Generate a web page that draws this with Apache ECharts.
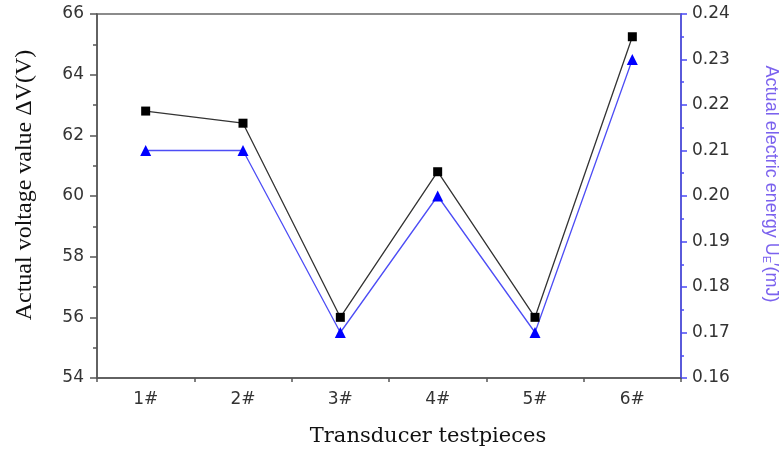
<!DOCTYPE html>
<html><head><meta charset="utf-8">
<script src="https://cdn.jsdelivr.net/npm/echarts@6/dist/echarts.min.js"></script>
<style>html,body{margin:0;padding:0;background:#fff}#c{width:782px;height:453px}</style>
</head><body><div id="c"></div>
<script>
const categories = ['1#','2#','3#','4#','5#','6#'];
const voltage = [62.8, 62.4, 56.0, 60.8, 56.0, 65.25];
const energy = [0.21, 0.21, 0.17, 0.20, 0.17, 0.23];
const leftTicks = {min: 54, max: 66, interval: 2};
const rightTicks = {min: 0.16, max: 0.24, interval: 0.01};

const chart = echarts.init(document.getElementById('c'));
const tickLabel = {color: '#333', fontFamily: 'DejaVu Sans, sans-serif', fontSize: 17};
chart.setOption({
  animation: false,
  grid: {left: 97, right: 101, top: 14, bottom: 75, containLabel: false, outerBoundsMode: 'none',
         show: true, borderColor: '#666', borderWidth: 1.5},
  xAxis: [{
    type: 'category', data: categories, boundaryGap: true,
    name: 'Transducer testpieces', nameLocation: 'middle', nameGap: 48,
    nameTextStyle: {fontFamily: 'DejaVu Serif, serif', fontSize: 21, color: '#111', padding: [0, 0, 0, 78]},
    axisLine: {lineStyle: {color: '#555', width: 1.5}},
    axisTick: {alignWithLabel: true, length: 7, lineStyle: {color: '#555', width: 1.5}},
    axisLabel: Object.assign({margin: 13}, tickLabel),
    splitLine: {show: false}
  }, {
    type: 'category', data: categories, boundaryGap: true, position: 'bottom',
    axisLine: {show: false},
    axisTick: {show: true, length: 4, lineStyle: {color: '#555', width: 1.5}},
    axisLabel: {show: false}, splitLine: {show: false}
  }],
  yAxis: [{
    type: 'value', min: leftTicks.min, max: leftTicks.max, interval: leftTicks.interval,
    name: 'Actual voltage value ΔV(V)', nameLocation: 'middle', nameGap: 60, nameRotate: 90,
    nameTextStyle: {fontFamily: 'Liberation Serif, Times New Roman, serif', fontSize: 24, color: '#111', padding: [0, 0, 0, 22]},
    axisLine: {show: true, lineStyle: {color: '#555', width: 1.5}},
    axisTick: {show: true, length: 7, lineStyle: {color: '#555', width: 1.5}},
    minorTick: {show: true, splitNumber: 2, length: 4, lineStyle: {color: '#555', width: 1.5}},
    axisLabel: Object.assign({margin: 13}, tickLabel),
    splitLine: {show: false}
  }, {
    type: 'value', min: rightTicks.min, max: rightTicks.max, interval: rightTicks.interval, position: 'right',
    name: '{a|Actual electric energy U}{s|E}{a|′(mJ)}', nameLocation: 'middle', nameGap: 80, nameRotate: -90,
    nameTextStyle: {rich: {
      a: {fontFamily: 'Liberation Sans, Arial, sans-serif', fontSize: 18, color: '#7b62ee'},
      s: {fontFamily: 'Liberation Sans, Arial, sans-serif', fontSize: 11, color: '#7b62ee', verticalAlign: 'bottom', padding: [9, 0, 0, 0]}
    }, padding: [0, 24, 0, 0]},
    axisLine: {show: true, lineStyle: {color: '#4a4af5', width: 1.5}},
    axisTick: {show: true, length: 6, lineStyle: {color: '#4a4af5', width: 1.5}},
    minorTick: {show: true, splitNumber: 2, length: 3, lineStyle: {color: '#4a4af5', width: 1.5}},
    axisLabel: Object.assign({margin: 11, formatter: v => v.toFixed(2)}, tickLabel),
    splitLine: {show: false}
  }],
  series: [{
    type: 'line', data: voltage, xAxisIndex: 0, yAxisIndex: 0,
    symbol: 'rect', symbolSize: 9,
    lineStyle: {color: '#333', width: 1.3},
    itemStyle: {color: '#000'}
  }, {
    type: 'line', data: energy, xAxisIndex: 0, yAxisIndex: 1,
    symbol: 'triangle', symbolSize: 11,
    lineStyle: {color: '#4d4df5', width: 1.3},
    itemStyle: {color: '#0000ff'}
  }]
});
</script></body></html>
